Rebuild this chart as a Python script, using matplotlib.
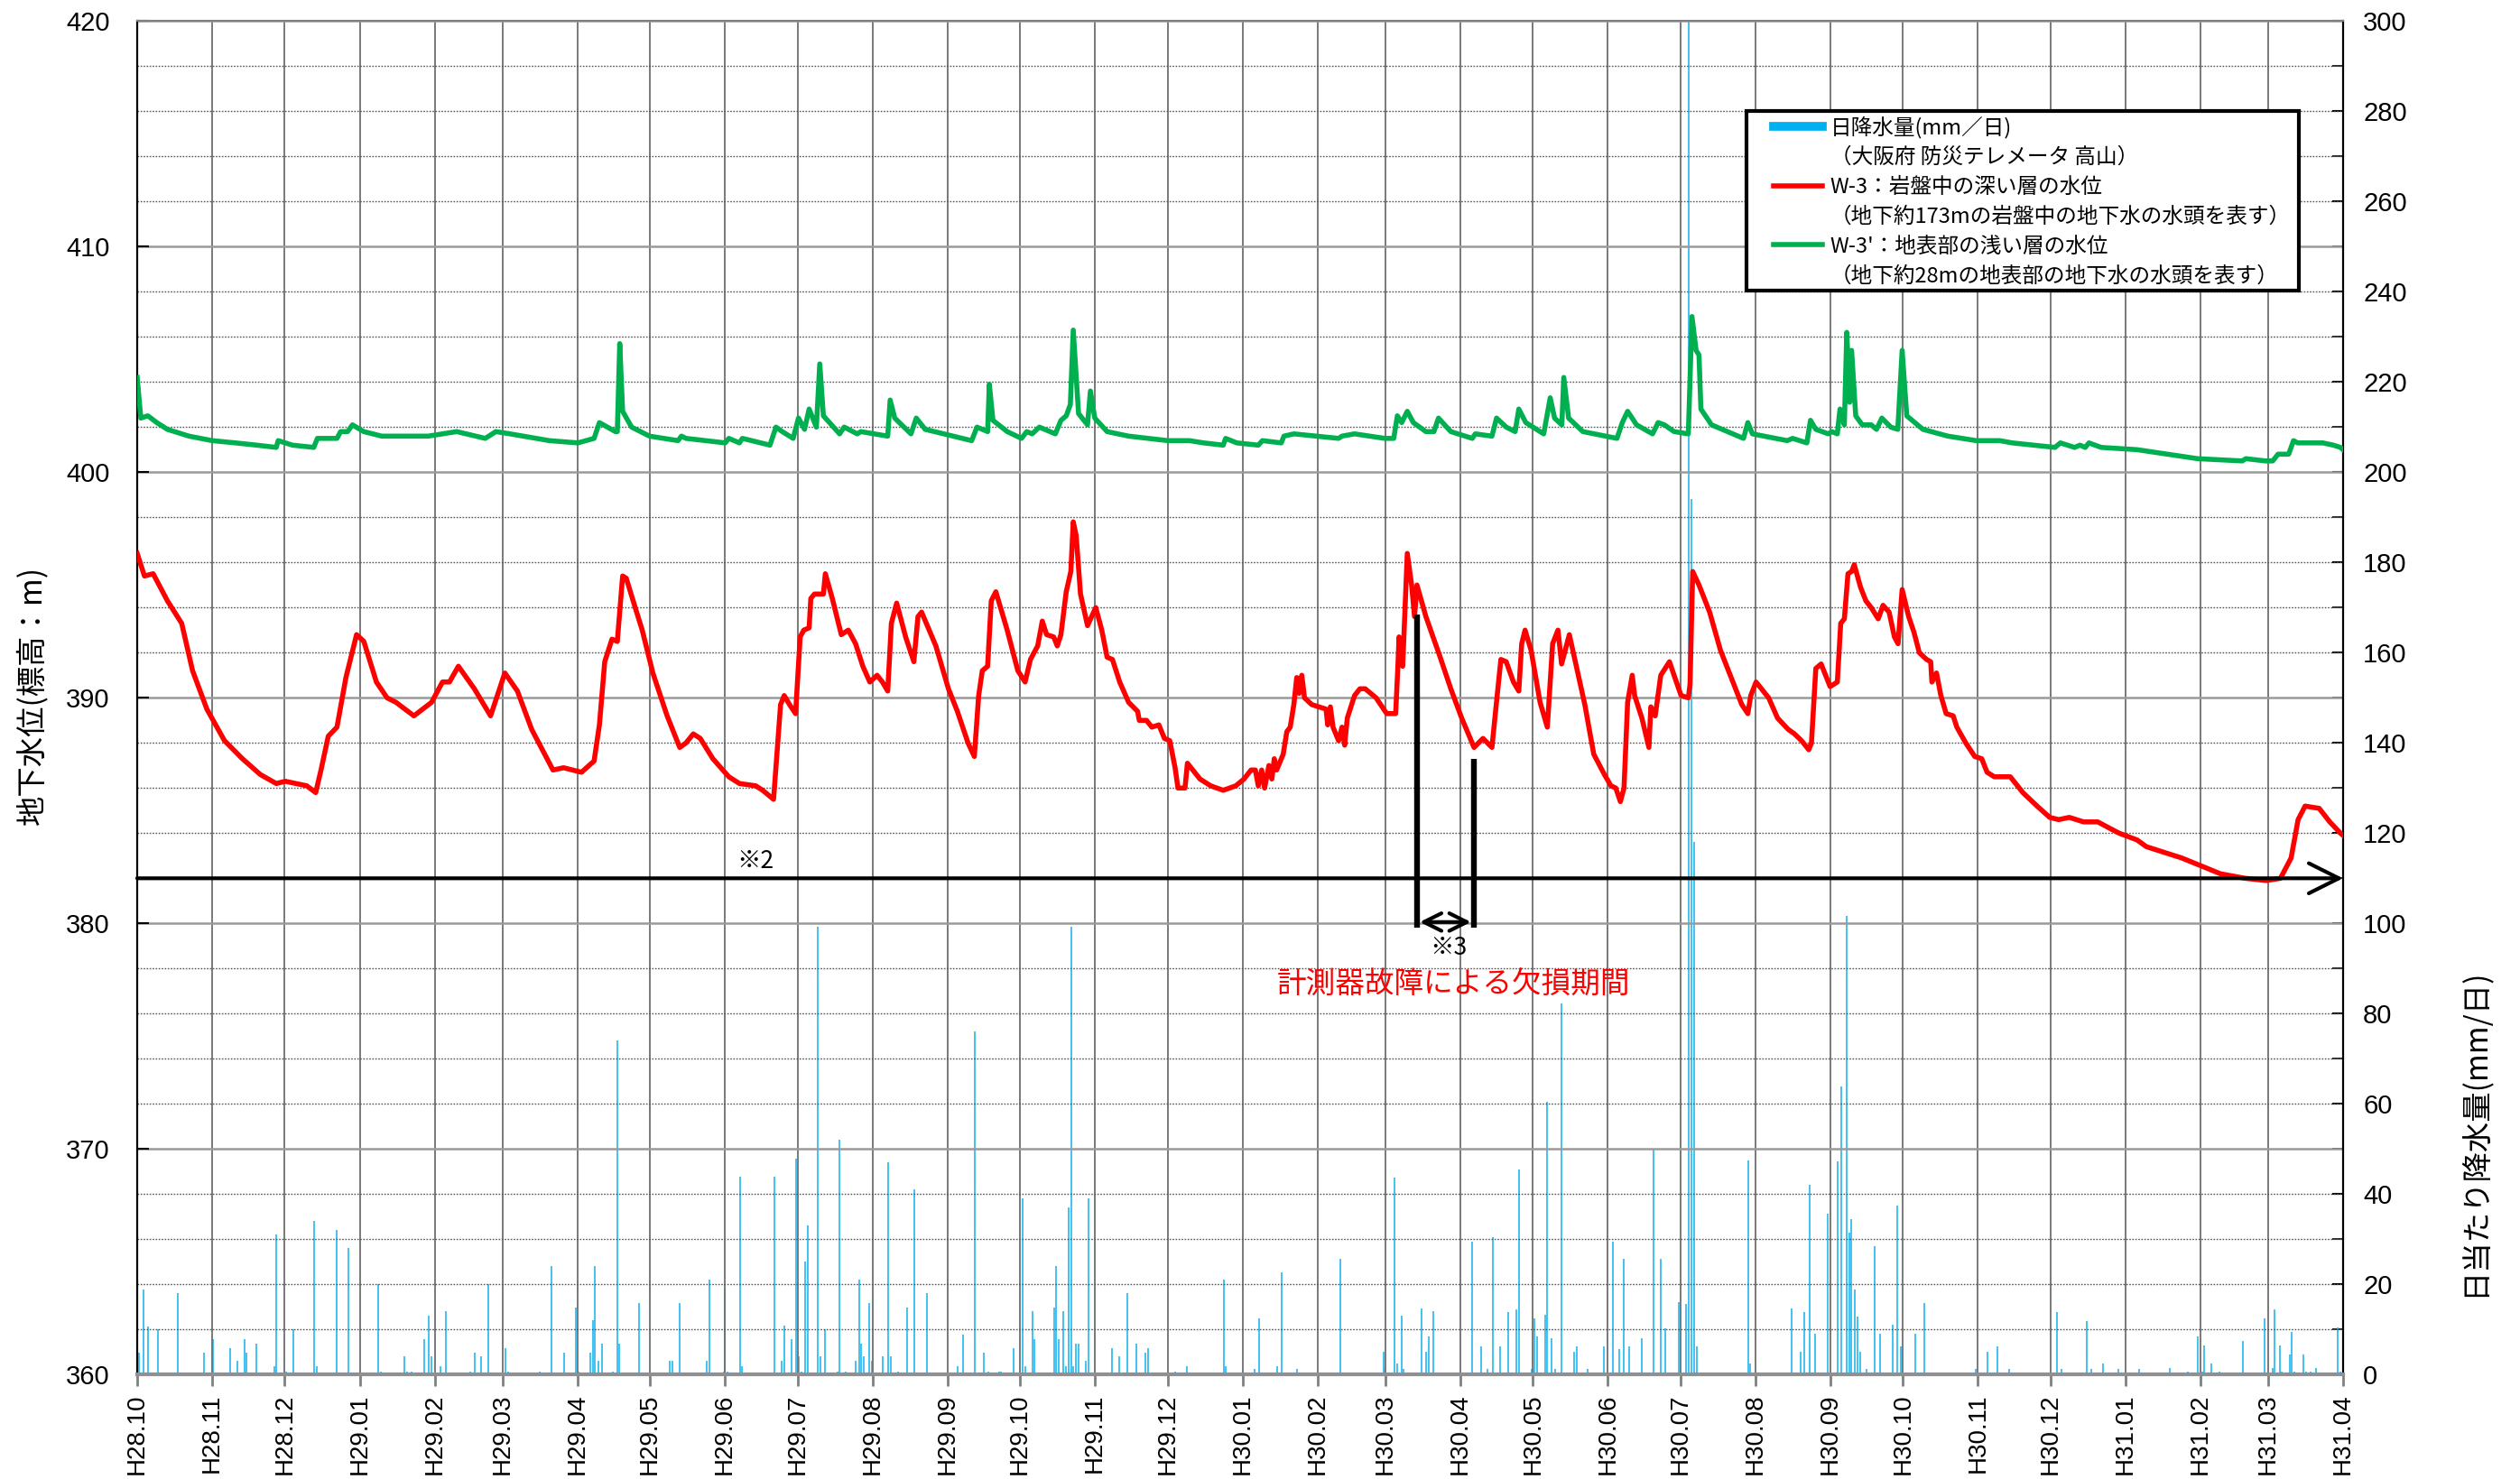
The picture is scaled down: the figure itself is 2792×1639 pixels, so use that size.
"""地下水位(W-3 / W-3') と日降水量の経時変化グラフ."""
import numpy as np
import pandas as pd
import matplotlib
matplotlib.use("Agg")
import matplotlib.pyplot as plt
from matplotlib.lines import Line2D
from matplotlib.patches import Rectangle

plt.rcParams["font.family"] = ["Noto Sans CJK JP", "DejaVu Sans"]

START = pd.Timestamp("2016-10-01")
END = pd.Timestamp("2019-04-01")

MONTH_LABELS = ["H28.10", "H28.11", "H28.12",
                "H29.01", "H29.02", "H29.03", "H29.04", "H29.05", "H29.06",
                "H29.07", "H29.08", "H29.09", "H29.10", "H29.11", "H29.12",
                "H30.01", "H30.02", "H30.03", "H30.04", "H30.05", "H30.06",
                "H30.07", "H30.08", "H30.09", "H30.10", "H30.11", "H30.12",
                "H31.01", "H31.02", "H31.03", "H31.04"]

# W-3 深い層 (日数: H28.10.01 からの経過日)
W3_DAY = [
    0, 3, 6.6, 12.5, 18.4, 22.9, 28.8, 36.1, 43.5, 50.9,
    57.5, 61.2, 70.1, 73.8, 76, 79, 82.6, 86.3, 90.7, 93.7,
    98.9, 103.3, 107, 114.4, 121.7, 126.2, 129.1, 132.8, 139.4, 146.1,
    152, 157.2, 163.1, 171.9, 176.3, 183.7, 188.9, 191.1, 193.3, 196.3,
    198.5, 200.7, 202.2, 205.9, 208.8, 213.2, 219.1, 224.3, 226.9, 229.9,
    232.8, 238, 244.6, 249, 255.7, 258.6, 263.1, 266, 267.5, 269.7,
    272.2, 274.1, 275.6, 277.8, 278.5, 280, 283.7, 284.5, 287.4, 291.1,
    294, 297, 300, 302.9, 305.9, 308.1, 310.3, 311.8, 314, 317.7,
    321.1, 322.8, 324.3, 330.2, 335.4, 339.1, 343.5, 346.1, 347.9, 349.4,
    351.6, 353.1, 355, 359.7, 364.1, 367.1, 369.3, 372.3, 374.2, 376,
    378.9, 380.4, 381.9, 384.1, 386, 387, 388.2, 390, 392.9, 396.3,
    398.8, 401, 403.2, 406.2, 409.9, 413.6, 414.3, 417.3, 419.5, 422.4,
    424.7, 426.9, 429.1, 430.3, 433.2, 434.2, 439.4, 443.8, 449, 454.2,
    457.6, 460.5, 462.3, 463.5, 464.9, 466.1, 467.9, 469.1, 470.1, 471.1,
    473.8, 475.3, 476.7, 478.2, 479.4, 480.4, 481.5, 482.6, 485.6, 488.5,
    491.5, 492.2, 493.3, 494.4, 496.7, 498.1, 499.2, 500.3, 503.3, 505.5,
    507.7, 512.2, 516.6, 520.3, 521.3, 521.7, 523.2, 525.1, 526.9, 528.1,
    529.1, 532.8, 538.7, 543.1, 547.6, 552.7, 556.4, 560.1, 561.6, 563.8,
    566, 569, 571.2, 572.4, 573.8, 576.3, 580, 583, 585.2, 587.4,
    588.9, 592.1, 594.8, 598.5, 602.2, 606.6, 609.3, 611.3, 613.2, 614.7,
    616.2, 618.1, 619.1, 622.1, 625, 625.8, 627.6, 629.9, 633.5, 635.4,
    638.3, 641.3, 642, 643.1, 645.7, 650.1, 654.6, 659, 663.4, 665.9,
    667.1, 669.3, 674.5, 678.2, 682.6, 685.2, 688.1, 691.1, 692.2, 694,
    696.2, 699.9, 702.9, 704.3, 705.8, 707.3, 708.8, 709.9, 712.5, 714.7,
    716.9, 719.8, 721.8, 724.3, 726.5, 728, 729.7, 732.4, 734.6, 736.8,
    739.8, 741.5, 742, 743.9, 745.7, 747.9, 750.8, 752.3, 756, 759.7,
    762.6, 764.8, 767.8, 770, 774.4, 779.6, 785.5, 790.7, 794.4, 798.8,
    804.7, 810.6, 815.8, 819.4, 826.8, 830.7, 845.3, 861.3, 871.5, 880.2,
    886.1, 890.5, 893.4, 896.3, 902.1, 906.5, 910.9, 912,
]
W3_LVL = [
    396.4, 395.4, 395.5, 394.3, 393.3, 391.2, 389.5, 388.1, 387.3, 386.6,
    386.2, 386.3, 386.1, 385.8, 386.8, 388.3, 388.7, 390.9, 392.8, 392.5,
    390.7, 390.0, 389.8, 389.2, 389.8, 390.7, 390.7, 391.4, 390.4, 389.2,
    391.1, 390.3, 388.6, 386.8, 386.9, 386.7, 387.2, 388.8, 391.6, 392.6,
    392.5, 395.4, 395.3, 394.0, 393.0, 391.1, 389.2, 387.8, 388.0, 388.4,
    388.2, 387.3, 386.5, 386.2, 386.1, 385.9, 385.5, 389.7, 390.1, 389.7,
    389.3, 392.7, 393.0, 393.1, 394.4, 394.6, 394.6, 395.5, 394.4, 392.8,
    393.0, 392.4, 391.4, 390.7, 391.0, 390.7, 390.3, 393.3, 394.2, 392.7,
    391.6, 393.6, 393.8, 392.3, 390.4, 389.4, 388.0, 387.4, 390.1, 391.2,
    391.4, 394.3, 394.7, 393.0, 391.2, 390.7, 391.7, 392.3, 393.4, 392.8,
    392.7, 392.3, 392.8, 394.7, 395.6, 397.8, 397.2, 394.6, 393.2, 394.0,
    393.0, 391.8, 391.7, 390.7, 389.8, 389.4, 389.0, 389.0, 388.7, 388.8,
    388.2, 388.1, 386.9, 386.0, 386.0, 387.1, 386.4, 386.1, 385.9, 386.1,
    386.4, 386.8, 386.8, 386.1, 386.8, 386.0, 387.0, 386.4, 387.3, 386.8,
    387.5, 388.5, 388.7, 389.7, 390.9, 390.2, 391.0, 390.0, 389.7, 389.6,
    389.5, 388.8, 389.6, 388.7, 388.1, 388.7, 387.9, 389.1, 390.1, 390.4,
    390.4, 390.0, 389.3, 389.3, 391.6, 392.7, 391.4, 396.4, 395.0, 393.6,
    395.0, 393.6, 391.8, 390.4, 389.1, 387.8, 388.2, 387.8, 389.4, 391.7,
    391.6, 390.7, 390.3, 392.4, 393.0, 392.1, 389.8, 388.7, 392.4, 393.0,
    391.5, 392.8, 391.5, 389.7, 387.5, 386.6, 386.1, 386.0, 385.4, 386.0,
    389.8, 391.0, 390.1, 389.1, 387.8, 389.6, 389.2, 391.0, 391.6, 391.0,
    390.1, 390.0, 390.6, 395.6, 395.0, 393.8, 392.1, 390.9, 389.7, 389.3,
    390.1, 390.7, 390.0, 389.1, 388.6, 388.4, 388.1, 387.7, 388.0, 391.3,
    391.5, 390.5, 390.7, 393.3, 393.5, 395.5, 395.6, 395.9, 394.9, 394.3,
    394.0, 393.5, 394.1, 393.8, 392.7, 392.4, 394.8, 393.6, 392.9, 392.0,
    391.7, 391.6, 390.7, 391.1, 390.1, 389.3, 389.2, 388.7, 388.0, 387.4,
    387.3, 386.7, 386.5, 386.5, 386.5, 385.8, 385.2, 384.7, 384.6, 384.7,
    384.5, 384.5, 384.2, 384.0, 383.7, 383.4, 382.9, 382.2, 382.0, 381.9,
    382.0, 382.9, 384.6, 385.2, 385.1, 384.5, 384.0, 383.9,
]

# W-3' 浅い層
W3S_DAY = [
    0, 1.5, 4.4, 8.1, 12.5, 21.4, 31, 40.6, 49.4, 57.5,
    58.3, 64.2, 73, 74.5, 82.6, 84.1, 87, 89, 93.7, 101.1,
    120.3, 132.1, 143.9, 148.3, 154.2, 170.4, 182.2, 188.9, 191.1, 197.7,
    198.5, 199.5, 200.7, 204.4, 211.8, 223.6, 225, 226.9, 243.1, 244.6,
    249, 250.2, 261.6, 264.1, 266.7, 271.2, 273.4, 275.9, 277.8, 280.8,
    282.2, 283.7, 290.4, 292.3, 297.7, 299.2, 310.3, 311.3, 313.2, 319.9,
    322.1, 325.8, 345, 347.2, 351.6, 352.3, 353.8, 359.7, 365.6, 367.8,
    370, 373, 379.6, 381.9, 384.1, 385.8, 387, 389.2, 392.9, 394.1,
    395.9, 401, 409.9, 426.1, 435, 440.9, 449, 450, 454.6, 463.5,
    465.2, 473, 474.1, 478.2, 496.7, 498.1, 503.3, 515.8, 519.5, 521,
    522.8, 525.1, 527.6, 532.8, 536.1, 538, 543.1, 552, 553.2, 560.1,
    562, 566, 569.7, 571.2, 574.1, 581.5, 584.2, 586, 589, 589.8,
    591.8, 597.7, 611.8, 614, 616.2, 619.9, 626.5, 628.8, 631.4, 635.4,
    641.3, 642.8, 644.5, 645.7, 646.5, 650.9, 664.1, 665.9, 667.8, 682.2,
    684.4, 690.3, 691.8, 694, 699.2, 700.6, 702.9, 704, 705.8, 706.8,
    708, 708.8, 710.5, 713.2, 716.9, 719.1, 721.3, 725, 727.9, 729.7,
    731.6, 738.3, 748.6, 760.4, 767.8, 770, 775.2, 784, 792.9, 795.1,
    801, 803.2, 805.4, 806.9, 812, 826.8, 851.9, 870.3, 871.8, 879.9,
    882.9, 885.1, 889.5, 891.5, 893.2, 903.6, 908, 910.9, 912,
]
W3S_LVL = [
    404.2, 402.4, 402.5, 402.2, 401.9, 401.6, 401.4, 401.3, 401.2, 401.1,
    401.4, 401.2, 401.1, 401.5, 401.5, 401.8, 401.8, 402.1, 401.8, 401.6,
    401.6, 401.8, 401.5, 401.8, 401.7, 401.4, 401.3, 401.5, 402.2, 401.8,
    401.8, 405.7, 402.7, 402.0, 401.6, 401.4, 401.6, 401.5, 401.3, 401.5,
    401.3, 401.5, 401.2, 402.0, 401.8, 401.5, 402.4, 401.9, 402.8, 402.0,
    404.8, 402.5, 401.7, 402.0, 401.7, 401.8, 401.6, 403.2, 402.4, 401.7,
    402.4, 401.9, 401.4, 402.0, 401.8, 403.9, 402.3, 401.8, 401.5, 401.8,
    401.7, 402.0, 401.7, 402.3, 402.5, 403.0, 406.3, 402.6, 402.1, 403.6,
    402.4, 401.8, 401.6, 401.4, 401.4, 401.3, 401.2, 401.5, 401.3, 401.2,
    401.4, 401.3, 401.6, 401.7, 401.5, 401.6, 401.7, 401.5, 401.5, 402.5,
    402.2, 402.7, 402.2, 401.8, 401.8, 402.4, 401.8, 401.5, 401.7, 401.6,
    402.4, 402.0, 401.8, 402.8, 402.2, 401.7, 403.3, 402.4, 402.1, 404.2,
    402.4, 401.8, 401.5, 402.2, 402.7, 402.1, 401.7, 402.2, 402.1, 401.8,
    401.7, 406.9, 405.4, 405.2, 402.8, 402.1, 401.5, 402.2, 401.7, 401.4,
    401.5, 401.3, 402.3, 401.9, 401.7, 401.8, 401.7, 402.8, 402.1, 406.2,
    403.1, 405.4, 402.5, 402.1, 402.1, 401.9, 402.4, 402.0, 401.9, 405.4,
    402.5, 401.9, 401.6, 401.4, 401.4, 401.4, 401.3, 401.2, 401.1, 401.3,
    401.1, 401.2, 401.1, 401.3, 401.1, 401.0, 400.6, 400.5, 400.6, 400.5,
    400.5, 400.8, 400.8, 401.4, 401.3, 401.3, 401.2, 401.1, 401.0,
]

# 日降水量 (mm/日)
RAIN_DAY = [
    0.7, 2.5, 4.5, 8.6, 16.7, 27.5, 31.3, 38.6, 41.5, 44.5,
    45.3, 49.4, 56.7, 57.6, 61.4, 64.6, 73.3, 74.2, 82.6, 87.3,
    99.6, 100.7, 110.6, 111.5, 113.5, 118.5, 120.5, 121.7, 125.5, 127.5,
    137.7, 139.5, 142.1, 145.3, 152.3, 153.2, 166.3, 171.3, 176.5, 181.5,
    182.4, 187.3, 188.5, 189.3, 190.5, 192.3, 196.6, 198.4, 199.3, 207.4,
    220.3, 221.4, 224.3, 235.4, 236.6, 242.4, 243.0, 244.2, 249.1, 250.0,
    263.4, 266.3, 267.5, 270.4, 272.4, 273.6, 274.5, 276.2, 277.4, 281.2,
    282.4, 284.4, 289.4, 290.2, 293.1, 297.2, 298.4, 299.3, 300.4, 302.5,
    303.6, 308.3, 310.3, 311.5, 314.4, 318.2, 321.4, 326.4, 339.2, 341.3,
    346.2, 350.0, 352.0, 356.4, 357.3, 362.3, 366.0, 367.2, 370.1, 371.0,
    379.2, 380.0, 380.9, 383.0, 384.1, 385.0, 386.2, 387.0, 388.2, 389.1,
    392.3, 393.2, 403.1, 406.0, 409.2, 413.0, 416.8, 418.0, 429.0, 434.0,
    449.1, 450.0,
    461.9, 463.9, 471.2, 473.3, 479.4, 489.6, 497.5, 515.2, 515.8, 519.9,
    521.1, 522.8, 523.7, 531.0, 532.7, 533.9, 536.0, 546.4, 552.0, 555.8,
    558.1, 560.4, 563.6, 566.9, 570.3, 571.2, 576.5, 577.6, 578.8, 582.0,
    582.9, 584.6, 586.1, 589.0, 594.0, 595.1, 599.8, 606.2, 610.0, 612.9,
    614.7, 616.7, 622.0, 626.9, 629.8, 631.9, 635.7, 637.4, 640.3, 641.5,
    642.6, 643.7, 645.0, 666.0, 666.9, 684.1, 687.8, 689.3, 691.4, 693.7,
    698.9, 703.0, 704.5, 705.9, 706.8, 707.7, 708.8, 710.0, 711.2, 712.3,
    715.0, 718.5, 720.5, 725.8, 727.8, 729.3, 735.1, 738.9, 760.2, 765.1,
    768.9, 773.9, 793.7, 795.7, 805.9, 808.0, 812.6, 819.0, 827.8,
    840.5, 847.7, 851.9, 853.7, 854.7, 857.6, 860.7, 870.7, 879.7, 882.8,
    883.7, 885.7, 886.7, 889.8, 890.6, 891.7, 895.7, 896.7, 898.7, 900.8,
    909.6, 910.7,
]
RAIN_MM = [
    4.8, 18.9, 10.7, 10, 18, 4.8, 7.8, 5.9, 3, 7.9,
    4.8, 6.9, 1.9, 31.1, 0.7, 10, 34.1, 1.9, 32.1, 28,
    20, 0.7, 4.1, 0.7, 0.7, 7.9, 13, 4.1, 1.9, 14.1,
    0.7, 4.8, 4.1, 20, 5.9, 0.7, 0.7, 24.1, 4.8, 14.8,
    0.7, 4.8, 12.1, 24.1, 3, 6.9, 0.7, 74.1, 6.9, 15.9,
    3, 3, 15.9, 3, 21, 0.7, 19, 0.7, 43.9, 1.9,
    43.9, 3, 10.9, 7.9, 47.9, 4.1, 0.7, 25, 33.1, 99.3,
    4.1, 10, 0.7, 52.1, 0.7, 3, 21, 6.9, 4.1, 15.9,
    3, 4.1, 47, 4.1, 0.7, 14.8, 41.1, 18, 1.9, 8.9,
    76.1, 4.8, 0.7, 0.7, 0.7, 5.9, 39, 1.9, 14.1, 7.9,
    14.8, 24.1, 7.9, 14.1, 1.9, 37, 99.3, 1.9, 6.9, 6.9,
    3, 39, 5.9, 4.1, 18, 6.9, 4.8, 5.9, 0.7, 1.9,
    21, 1.9,
    1.2, 12.5, 1.9, 22.7, 1.2, 0.3, 25.6, 5, 1.2, 43.7,
    2.4, 13.1, 1.2, 14.7, 5, 8.5, 14.1, 0.3, 29.5, 6.3,
    1.2, 30.5, 6.3, 13.8, 14.4, 45.4, 1.2, 12.5, 8.4, 13.3,
    60.4, 8.0, 1.2, 82.2, 5, 6.3, 1.2, 6.3, 29.5, 5.6,
    25.6, 6.3, 8.0, 49.9, 25.6, 10.3, 0.3, 16.1, 15.7, 320,
    194, 118, 6.3, 47.4, 2.4, 14.7, 5, 13.8, 42.0, 9.1,
    35.7, 47.2, 63.8, 0.3, 101.7, 31.5, 34.4, 18.8, 12.9, 5,
    1.2, 28.5, 9.1, 11.0, 37.4, 6.3, 9.1, 15.9, 1.2, 5,
    6.3, 1.2, 13.8, 1.2, 11.8, 1.2, 2.4, 1.2, 1.2,
    1.5, 0.6, 8.5, 0.6, 6.5, 2.5, 0.6, 7.5, 12.5, 1.5,
    14.5, 6.5, 0.6, 4.5, 9.5, 0.6, 4.5, 0.6, 0.6, 1.5,
    10.5, 0.6,
]

# 注記 (※2 基準線, ※3 欠損期間)
REF_LEVEL = 382.0
GAP_START, GAP_END = 529.2, 552.5


def to_dates(days):
    return START + pd.to_timedelta(np.asarray(days, dtype=float), unit="D")


def main():
    fig = plt.figure(figsize=(27.92, 16.39), dpi=100)
    ax1 = fig.add_axes([0.05444, 0.07059, 0.87536, 0.91519])
    ax2 = ax1.twinx()
    ax1.set_zorder(ax2.get_zorder() + 1)
    ax1.patch.set_visible(False)

    # 降水量
    ax2.vlines(to_dates(RAIN_DAY), 0, RAIN_MM, colors="#33BDEF", lw=1.3)
    ax2.set_ylim(0, 300)
    ax2.set_yticks(range(0, 301, 20))
    ax2.set_yticks(range(0, 301, 10), minor=True)
    ax2.tick_params(axis="y", which="major", direction="in", length=9, width=1.5,
                    labelsize=21, pad=16)
    ax2.tick_params(axis="y", which="minor", direction="in", length=9, width=1.2)
    for lbl in ax2.get_yticklabels():
        lbl.set_fontfamily("Liberation Sans")

    # 水位
    ax1.plot(to_dates(W3S_DAY), W3S_LVL, color="#00B050", lw=4, zorder=3)
    ax1.plot(to_dates(W3_DAY), W3_LVL, color="#FF0000", lw=4, zorder=3)

    ax1.set_xlim(START, END)
    ax1.set_ylim(360, 420)
    ax1.set_yticks(range(360, 421, 10))
    ax1.set_yticks(range(360, 421, 2), minor=True)
    ticks = pd.date_range(START, END, freq="MS")
    ax1.set_xticks(ticks, MONTH_LABELS, rotation=90, fontfamily="Liberation Sans")
    ax1.tick_params(axis="x", direction="out", length=9, width=2, color="#808080",
                    labelsize=20, pad=6)
    ax1.tick_params(axis="y", which="major", direction="in", length=9, width=1.5,
                    labelsize=21, pad=22)
    ax1.tick_params(axis="y", which="minor", length=0)
    for lbl in ax1.get_yticklabels():
        lbl.set_fontfamily("Liberation Sans")

    ax1.grid(axis="x", which="major", color="#6e6e6e", lw=1.3)
    ax1.grid(axis="y", which="major", color="#9a9a9a", lw=1.8)
    ax1.grid(axis="y", which="minor", color="#555555", lw=1.0, ls=(0, (1.2, 1.2)))

    for sp in ("left", "right"):
        ax1.spines[sp].set_color("black")
        ax1.spines[sp].set_linewidth(1.6)
    ax1.spines["top"].set_color("#808080")
    ax1.spines["top"].set_linewidth(1.5)
    ax1.spines["bottom"].set_color("#909090")
    ax1.spines["bottom"].set_linewidth(3)
    for sp in ax2.spines.values():
        sp.set_visible(False)

    # ※2 基準線の矢印
    ax1.annotate("", xy=(END, REF_LEVEL), xytext=(START, REF_LEVEL),
                 arrowprops=dict(arrowstyle="->,head_length=0.8,head_width=0.4",
                                 lw=3, color="black", mutation_scale=30,
                                 shrinkA=0, shrinkB=0), zorder=6)
    ax1.text(to_dates([255.6])[0], 382.75, "※2", fontsize=19, ha="center", va="center")

    # ※3 欠損期間
    g0, g1 = to_dates([GAP_START, GAP_END])
    ax1.plot([g0, g0], [393.7, 379.8], color="black", lw=4.6, solid_capstyle="butt", zorder=6)
    ax1.plot([g1, g1], [387.3, 379.8], color="black", lw=4.6, solid_capstyle="butt", zorder=6)
    ax1.annotate("", xy=(g1, 380.06), xytext=(g0, 380.06),
                 arrowprops=dict(arrowstyle="<->,head_length=0.7,head_width=0.35",
                                 lw=3, color="black", mutation_scale=20,
                                 shrinkA=2, shrinkB=2), zorder=6)
    ax1.text(to_dates([542.3])[0], 378.9, "※3", fontsize=19, ha="center", va="center")
    ax1.text(to_dates([544.1])[0], 377.25, "計測器故障による欠損期間", fontsize=23.5,
             color="#FF0000", ha="center", va="center")

    # 凡例
    ax1.add_patch(Rectangle((0.7295, 0.8009), 0.2505, 0.1326, transform=ax1.transAxes,
                            facecolor="white", edgecolor="black", lw=3, zorder=4))
    blank = Line2D([], [], color="none")
    handles = [Line2D([], [], color="#00B0F0", lw=7), blank,
               Line2D([], [], color="#FF0000", lw=4), blank,
               Line2D([], [], color="#00B050", lw=4), blank]
    labels = ["日降水量(mm／日)", "（大阪府 防災テレメータ 高山）",
              "W-3：岩盤中の深い層の水位", "（地下約173mの岩盤中の地下水の水頭を表す）",
              "W-3'：地表部の浅い層の水位", "（地下約28mの地表部の地下水の水頭を表す）"]
    leg = ax1.legend(handles, labels, loc="upper left", bbox_to_anchor=(0.7418, 0.9300),
                     frameon=False, fontsize=17, borderpad=0, borderaxespad=0,
                     handlelength=2.3, handletextpad=0.35, labelspacing=0.42)
    leg.set_zorder(5)

    # 軸ラベル
    fig.text(36 / 2792, 1 - 770 / 1639, "地下水位(標高：m)", rotation=90,
             fontsize=24, ha="center", va="center")
    fig.text(2742 / 2792, 1 - 1255 / 1639, "日当たり降水量(mm/日)", rotation=90,
             fontsize=24, ha="center", va="center")

    fig.savefig("out.png", dpi=100)
    plt.close(fig)


if __name__ == "__main__":
    main()
